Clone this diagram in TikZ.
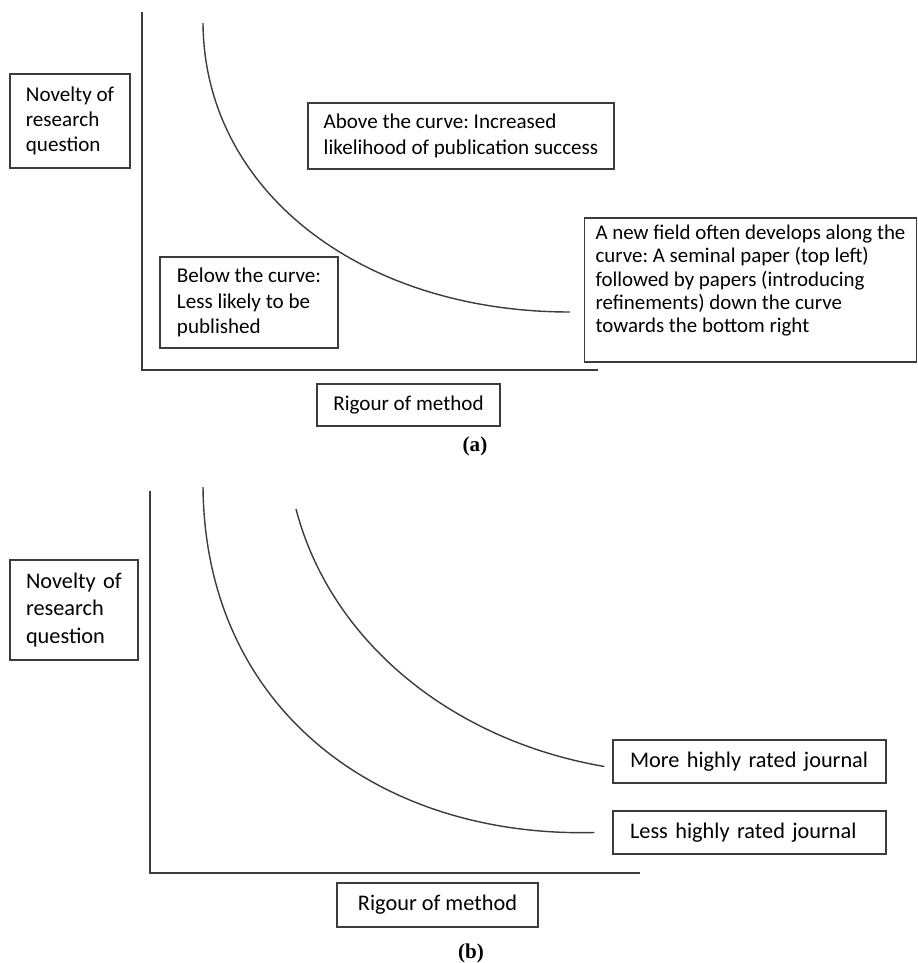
\documentclass[tikz,border=0pt]{standalone}
\usepackage{fontspec}
\usepackage{tikz}
\usepackage{xcolor}
\setmainfont{Carlito}
\newfontfamily\capfont{Liberation Serif}
\definecolor{mInk}{HTML}{3C3C3C}
\frenchspacing

\begin{document}
\begin{tikzpicture}[x=0.02cm, y=-0.02cm,
  lbox/.style={draw=mInk, line width=0.7pt, align=left, inner sep=0pt,
               font=\fontsize{12}{14.4}\selectfont},
  lboxB/.style={lbox, font=\fontsize{12.7}{15.5}\selectfont},
  axis/.style={draw=mInk, line width=1.1pt},
  curve/.style={draw=mInk, line width=0.8pt},
  panel/.style={font=\capfont\bfseries\fontsize{12}{14}\selectfont},
]
  \useasboundingbox (0,0) rectangle (917,963);

  % Panel (a): one curve
  \draw[axis] (142,12) -- (142,370) -- (598,370);
  \node[lbox, minimum width=2.4cm, minimum height=1.88cm] (novA) at (70,121) {Novelty of\\research\\question};
  \node[lbox, minimum width=6.12cm, minimum height=1.32cm] (aboveA) at (461,136) {Above the curve: Increased\\likelihood of publication success};
  \node[lbox, minimum width=3.56cm, minimum height=1.82cm] (belowA) at (249,302.5) {Below the curve:\\Less likely to be\\published};
  \node[lbox, minimum width=6.64cm, minimum height=2.88cm,
        font=\fontsize{11.9}{13.3}\selectfont] (fieldA) at (750.5,290) {A new field often develops along the\\curve: A seminal paper (top left)\\followed by papers (introducing\\refinements) down the curve\\towards the bottom right\rule[-0.45cm]{0pt}{0pt}};
  \node[lbox, minimum width=3.66cm, minimum height=0.84cm] (rigA) at (408.5,405) {Rigour of method};
  \node[panel] (labA) at (475,446) {(a)};
  \coordinate (topA) at (203,23);
  \coordinate (endA) at (570,312);
  \draw[curve] (topA) .. controls (204,190) and (360,312) .. (endA);

  % Panel (b): two curves, one per journal rank
  \draw[axis] (150,491) -- (150,873) -- (640,873);
  \node[lboxB, inner xsep=0.32cm, text width=1.92cm, minimum height=2cm] (novB) at (74,610) {Novelty of\\research\\question};
  \node[lboxB, inner xsep=0.34cm, text width=4.78cm, minimum height=0.86cm] (moreB) at (749.5,761.5) {More highly rated journal};
  \node[lboxB, inner xsep=0.34cm, text width=4.78cm, minimum height=0.86cm] (lessB) at (749.5,832.5) {Less highly rated journal};
  \node[lboxB, minimum width=4.02cm, minimum height=0.88cm] (rigB) at (437.5,905) {Rigour of method};
  \node[panel] (labB) at (471,953) {(b)};
  \coordinate (topB) at (203,487);
  \coordinate (topC) at (296,509);
  \draw[curve] (topB) .. controls (205,710) and (380,838) .. ([xshift=-18*0.02cm]lessB.west);
  \draw[curve] (topC) .. controls (330,640) and (450,740) .. ([xshift=-8*0.02cm, yshift=-5*0.02cm]moreB.west);
\end{tikzpicture}
\end{document}
